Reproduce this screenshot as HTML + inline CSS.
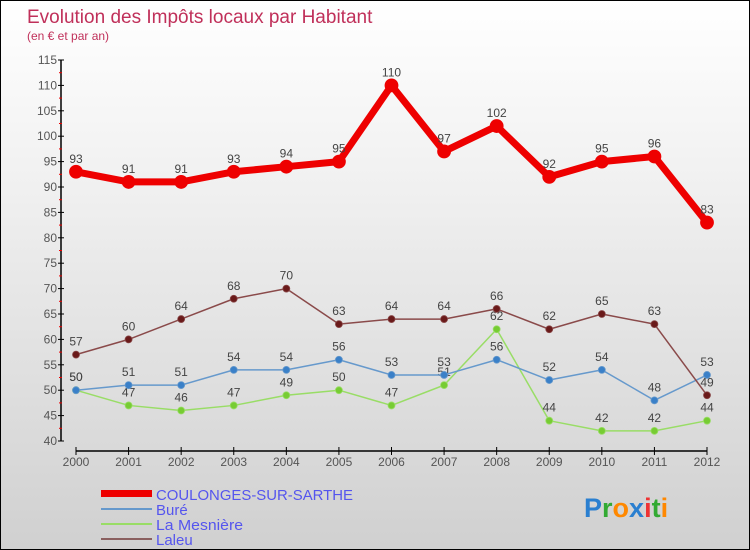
<!DOCTYPE html>
<html><head><meta charset="utf-8"><style>
body{margin:0}
#c{position:relative;width:748px;height:548px;border:1px solid #000;background:linear-gradient(#fff,#f2f2f2 30%,#d0d0d0);font-family:"Liberation Sans",sans-serif;overflow:hidden}
</style></head><body>
<div id="c">
<svg id="s" width="748" height="548" xmlns="http://www.w3.org/2000/svg" font-family="Liberation Sans, sans-serif">
<text x="26" y="22" font-size="19" fill="#c0305a">Evolution des Impôts locaux par Habitant</text>
<text x="26" y="39" font-size="12" fill="#c0305a">(en € et par an)</text>
<g id="axes"></g><g id="series"></g>
<g>
<rect x="100" y="489" width="51" height="7" fill="#e00"/>
<text x="155" y="499" font-size="15" fill="#5555ee" textLength="197" lengthAdjust="spacingAndGlyphs">COULONGES-SUR-SARTHE</text>
<line x1="100" y1="508" x2="151" y2="508" stroke="#6699cc" stroke-width="2"/>
<text x="155" y="514" font-size="15" fill="#5555ee">Buré</text>
<line x1="100" y1="523" x2="151" y2="523" stroke="#99dd66" stroke-width="2"/>
<text x="155" y="529" font-size="15" fill="#5555ee" textLength="87" lengthAdjust="spacingAndGlyphs">La Mesnière</text>
<line x1="100" y1="538" x2="151" y2="538" stroke="#8a6060" stroke-width="2"/>
<text x="155" y="544" font-size="15" fill="#5555ee">Laleu</text>
</g>
<text x="583" y="516" font-size="27" font-weight="bold"><tspan fill="#2a7fd0">P</tspan><tspan fill="#33aa33">r</tspan><tspan fill="#ff8800">o</tspan><tspan fill="#2a7fd0">x</tspan><tspan fill="#ee3333">i</tspan><tspan fill="#33aa33">t</tspan><tspan fill="#ff8800">i</tspan></text>
</svg></div>
<script>
const years=[2000,2001,2002,2003,2004,2005,2006,2007,2008,2009,2010,2011,2012];
const coulonges=[93,91,91,93,94,95,110,97,102,92,95,96,83];
const bure=[50,51,51,54,54,56,53,53,56,52,54,48,53];
const mesniere=[50,47,46,47,49,50,47,51,62,44,42,42,44];
const laleu=[57,60,64,68,70,63,64,64,66,62,65,63,49];
const yTicks=[40,45,50,55,60,65,70,75,80,85,90,95,100,105,110,115];
const NS="http://www.w3.org/2000/svg";
const X=i=>75+i*(706-75)/12;
const Y=v=>440-(v-40)*(440-59)/75;
function el(p,t,a){const e=document.createElementNS(NS,t);for(const k in a)e.setAttribute(k,a[k]);p.appendChild(e);return e;}
const ax=document.getElementById('axes');
const ya=el(ax,'line',{x1:60,y1:Y(115),x2:60,y2:Y(40),stroke:'#000','stroke-width':1.5});


const xa=el(ax,'line',{x1:75,y1:450,x2:706,y2:450,stroke:'#000','stroke-width':1.5});


yTicks.forEach(v=>{
 el(ax,'line',{x1:57,y1:Y(v),x2:63,y2:Y(v),stroke:'#000'});
 if(v<115)el(ax,'line',{x1:58,y1:Y(v+2.5),x2:61,y2:Y(v+2.5),stroke:'#e00'});
 const t=el(ax,'text',{x:56,y:Y(v)+4,'font-size':12,fill:'#555','text-anchor':'end'});
 t.textContent=v;
 
 
});
years.forEach((y,i)=>{
 el(ax,'line',{x1:X(i),y1:446,x2:X(i),y2:454,stroke:'#000'});
 const t=el(ax,'text',{x:X(i),y:465,'font-size':12,fill:'#555','text-anchor':'middle'});
 t.textContent=y;
 
 
});
const sg=document.getElementById('series');
function draw(name,data,color,w,r,dot){
 const g=el(sg,'g',{});
 
 
 el(g,'polyline',{points:data.map((v,i)=>X(i)+','+Y(v)).join(' '),fill:'none',stroke:color,'stroke-width':w,'stroke-linejoin':'round'});
 data.forEach((v,i)=>{
  const c=el(g,'circle',{cx:X(i),cy:Y(v),r:r,fill:dot,stroke:color,'stroke-width':0.8});
  
  
  const t=el(g,'text',{x:X(i),y:Y(v)-9,'font-size':12,fill:'#444','text-anchor':'middle'});
  t.textContent=v;
 });
}
draw('series-la-mesniere',mesniere,'#99dd66',1.5,3.5,'#77cc33');
draw('series-bure',bure,'#6699cc',1.5,3.5,'#3a80c8');
draw('series-laleu',laleu,'#8a4a4a',1.5,3.5,'#6a1a1a');
draw('series-coulonges',coulonges,'#ee0000',7,6.5,'#ee0000');
</script>
</body></html>
